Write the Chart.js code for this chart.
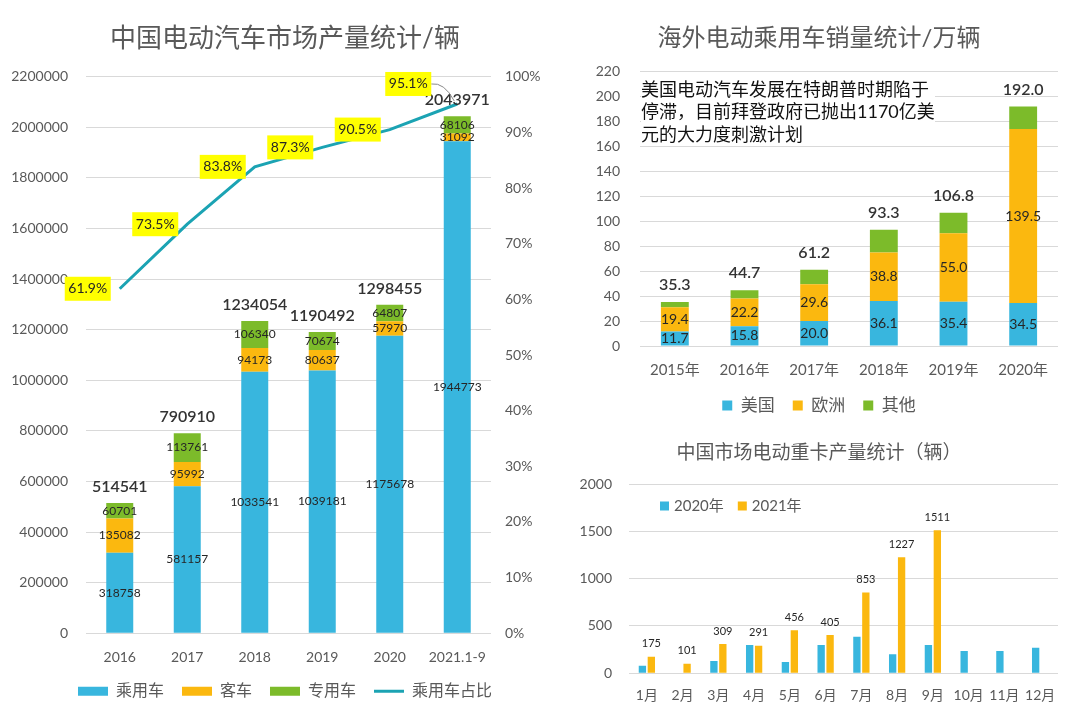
<!DOCTYPE html>
<html><head><meta charset="utf-8">
<script src="https://cdn.jsdelivr.net/npm/chart.js@4.4.0/dist/chart.umd.min.js"></script>
<style>
html,body{margin:0;padding:0;background:#fff;}
body{width:1080px;height:714px;position:relative;overflow:hidden;}
canvas{position:absolute;display:block;}
</style></head><body>
<canvas id="c1" width="570" height="714" style="left:0;top:0"></canvas>
<canvas id="c2" width="500" height="430" style="left:580px;top:0"></canvas>
<canvas id="c3" width="500" height="284" style="left:580px;top:430px"></canvas>
<script>
// ---------- Data: 中国电动汽车市场产量统计 ----------
const cnYears = ['2016', '2017', '2018', '2019', '2020', '2021.1-9'];
const cnPassenger = [318758, 581157, 1033541, 1039181, 1175678, 1944773];
const cnBus = [135082, 95992, 94173, 80637, 57970, 31092];
const cnSpecial = [60701, 113761, 106340, 70674, 64807, 68106];
const cnTotal = [514541, 790910, 1234054, 1190492, 1298455, 2043971];
const cnPassengerShare = [0.619, 0.735, 0.838, 0.873, 0.905, 0.951];
const cnAxisMax = 2200000, cnAxisStep = 200000;

// ---------- Data: 海外电动乘用车销量统计 ----------
const osYears = ['2015年', '2016年', '2017年', '2018年', '2019年', '2020年'];
const osUS = [11.7, 15.8, 20.0, 36.1, 35.4, 34.5];
const osEU = [19.4, 22.2, 29.6, 38.8, 55.0, 139.5];
const osOther = [4.2, 6.7, 11.6, 18.4, 16.4, 18.0];
const osTotal = [35.3, 44.7, 61.2, 93.3, 106.8, 192.0];
const osNote = ['美国电动汽车发展在特朗普时期陷于', '停滞，目前拜登政府已抛出1170亿美', '元的大力度刺激计划'];
const osAxisMax = 220, osAxisStep = 20;

// ---------- Data: 中国市场电动重卡产量统计 ----------
const hkMonths = ['1月', '2月', '3月', '4月', '5月', '6月', '7月', '8月', '9月', '10月', '11月', '12月'];
const hk2020 = [80, 0, 130, 300, 120, 300, 385, 200, 300, 235, 235, 270];
const hk2021 = [175, 101, 309, 291, 456, 405, 853, 1227, 1511, null, null, null];
const hkAxisMax = 2000, hkAxisStep = 500;

// ---------- Styles ----------
const FONT = 'Lato, "Noto Sans CJK SC", sans-serif';
const BLUE = '#38B6DE', ORANGE = '#FBB80F', GREEN = '#7CBB2A', TEAL = '#1BA3B3';
const GRAY = '#595959', DARK = '#262626', GRID = '#D9D9D9';
Chart.defaults.font.family = FONT;
Chart.defaults.color = GRAY;

// ---------- Chart 1 ----------
const cnLabels = {
  id: 'cnLabels',
  afterDatasetsDraw(chart) {
    const ctx = chart.ctx;
    ctx.save();
    ctx.textAlign = 'center';
    ctx.textBaseline = 'middle';
    [0, 1, 2].forEach(di => {
      const meta = chart.getDatasetMeta(di);
      const vals = chart.data.datasets[di].data;
      meta.data.forEach((el, j) => {
        ctx.font = '12px ' + FONT;
        ctx.fillStyle = DARK;
        ctx.fillText(String(vals[j]), el.x, (el.y + el.base) / 2);
      });
    });
    chart.getDatasetMeta(2).data.forEach((el, j) => {
      ctx.font = '600 16px ' + FONT;
      ctx.fillStyle = '#333';
      ctx.fillText(String(cnTotal[j]), el.x, el.y - 16);
    });
    const lm = chart.getDatasetMeta(3);
    lm.data.forEach((pt, j) => {
      const last = j === lm.data.length - 1;
      const cx = pt.x - (last ? 49 : 32), cy = pt.y - (last ? 20 : 0);
      if (last) {
        ctx.strokeStyle = '#888'; ctx.lineWidth = 1;
        ctx.beginPath();
        ctx.moveTo(cx + 23, cy);
        ctx.quadraticCurveTo(cx + 36, cy - 2, pt.x - 3, pt.y - 3);
        ctx.stroke();
      }
      ctx.fillStyle = '#FFFF00';
      ctx.fillRect(cx - 23, cy - 12, 46, 24);
      ctx.fillStyle = DARK;
      ctx.font = '14px ' + FONT;
      ctx.fillText((cnPassengerShare[j] * 100).toFixed(1) + '%', cx, cy);
    });
    ctx.restore();
  }
};

const barCommon = { barPercentage: 0.8, categoryPercentage: 0.5, pointStyle: 'rect', borderWidth: 0 };

new Chart(document.getElementById('c1'), {
  data: {
    labels: cnYears,
    datasets: [
      Object.assign({ type: 'bar', label: '乘用车', data: cnPassenger, backgroundColor: BLUE, yAxisID: 'y', order: 1 }, barCommon),
      Object.assign({ type: 'bar', label: '客车', data: cnBus, backgroundColor: ORANGE, yAxisID: 'y', order: 1 }, barCommon),
      Object.assign({ type: 'bar', label: '专用车', data: cnSpecial, backgroundColor: GREEN, yAxisID: 'y', order: 1 }, barCommon),
      { type: 'line', label: '乘用车占比', data: cnPassengerShare, borderColor: TEAL, backgroundColor: TEAL,
        borderWidth: 3, pointRadius: 0, yAxisID: 'y1', pointStyle: 'line', order: 0, tension: 0 }
    ]
  },
  options: {
    responsive: false, animation: false,
    layout: { padding: { left: 0, right: 0, top: 0, bottom: 4.7 } },
    scales: {
      x: { stacked: true, grid: { display: false, drawTicks: false }, border: { display: false },
           ticks: { padding: 15.3, color: GRAY, font: { size: 14 }, maxRotation: 0, autoSkip: false },
           afterFit(s) { s.height = 32; } },
      y: { stacked: true, min: 0, max: cnAxisMax,
           ticks: { stepSize: cnAxisStep, padding: 18, color: GRAY, font: { size: 14 }, callback: v => String(v) },
           grid: { color: GRID, drawTicks: false }, border: { display: false },
           afterFit(s) { s.width = 86; } },
      y1: { position: 'right', min: 0, max: 1,
            ticks: { stepSize: 0.1, padding: 14, color: GRAY, font: { size: 14 }, callback: v => Math.round(v * 100) + '%' },
            grid: { display: false, drawTicks: false }, border: { display: false },
            afterFit(s) { s.width = 79; } }
    },
    plugins: {
      title: { display: true, text: '中国电动汽车市场产量统计/辆', color: GRAY,
               font: { size: 26, weight: 'normal' }, padding: { top: 23, bottom: 22.5 } },
      legend: { position: 'bottom',
                labels: { usePointStyle: true, pointStyleWidth: 30, boxHeight: 9, padding: 18,
                          font: { size: 16 }, color: GRAY, sort: (a, b) => a.datasetIndex - b.datasetIndex } },
      tooltip: { enabled: false }
    }
  },
  plugins: [cnLabels]
});

// ---------- Chart 2 ----------
const osLabels = {
  id: 'osLabels',
  beforeDatasetsDraw(chart) {
    const ctx = chart.ctx, a = chart.chartArea;
    ctx.save();
    ctx.fillStyle = '#fff';
    ctx.fillRect(a.left + 1, a.top + 6, 294, 68);
    ctx.fillStyle = '#111';
    ctx.font = '18px ' + FONT;
    ctx.textAlign = 'left';
    ctx.textBaseline = 'middle';
    osNote.forEach((line, i) => ctx.fillText(line, a.left + 1, a.top + 18 + i * 22.5));
    ctx.restore();
  },
  afterDatasetsDraw(chart) {
    const ctx = chart.ctx;
    ctx.save();
    ctx.textAlign = 'center';
    ctx.textBaseline = 'middle';
    [0, 1].forEach(di => {
      const vals = chart.data.datasets[di].data;
      chart.getDatasetMeta(di).data.forEach((el, j) => {
        ctx.font = '14px ' + FONT;
        ctx.fillStyle = DARK;
        ctx.fillText(vals[j].toFixed(1), el.x, (el.y + el.base) / 2);
      });
    });
    chart.getDatasetMeta(2).data.forEach((el, j) => {
      ctx.font = '600 16px ' + FONT;
      ctx.fillStyle = '#333';
      ctx.fillText(osTotal[j].toFixed(1), el.x, el.y - 17);
    });
    ctx.restore();
  }
};

new Chart(document.getElementById('c2'), {
  type: 'bar',
  data: {
    labels: osYears,
    datasets: [
      Object.assign({ label: '美国', data: osUS, backgroundColor: BLUE }, barCommon),
      Object.assign({ label: '欧洲', data: osEU, backgroundColor: ORANGE }, barCommon),
      Object.assign({ label: '其他', data: osOther, backgroundColor: GREEN }, barCommon)
    ]
  },
  options: {
    responsive: false, animation: false,
    layout: { padding: { left: 0, right: 22, top: 0, bottom: 6 } },
    scales: {
      x: { stacked: true, grid: { display: false, drawTicks: false }, border: { display: false },
           ticks: { padding: 15, color: GRAY, font: { size: 15 }, maxRotation: 0, autoSkip: false },
           afterFit(s) { s.height = 33; } },
      y: { stacked: true, min: 0, max: osAxisMax,
           ticks: { stepSize: osAxisStep, padding: 20, color: GRAY, font: { size: 14 } },
           grid: { color: GRID, drawTicks: false }, border: { display: false },
           afterFit(s) { s.width = 60; } }
    },
    plugins: {
      title: { display: true, text: '海外电动乘用车销量统计/万辆', color: GRAY,
               font: { size: 24, weight: 'normal' }, padding: { top: 23.6, bottom: 19.3 } },
      legend: { position: 'bottom',
                labels: { usePointStyle: true, pointStyleWidth: 10, boxHeight: 10, padding: 18,
                          font: { size: 17 }, color: GRAY } },
      tooltip: { enabled: false }
    }
  },
  plugins: [osLabels]
});

// ---------- Chart 3 ----------
const hkLabels = {
  id: 'hkLabels',
  afterDatasetsDraw(chart) {
    const ctx = chart.ctx, a = chart.chartArea;
    ctx.save();
    ctx.textAlign = 'center';
    ctx.textBaseline = 'middle';
    ctx.font = '11px ' + FONT;
    ctx.fillStyle = DARK;
    chart.getDatasetMeta(1).data.forEach((el, j) => {
      if (hk2021[j] == null) return;
      ctx.fillText(String(hk2021[j]), el.x, el.y - 13);
    });
    // legend inside plot area
    ctx.textAlign = 'left';
    ctx.font = '15px ' + FONT;
    let x = a.left + 31;
    const y = a.top + 22;
    chart.data.datasets.forEach(ds => {
      ctx.fillStyle = ds.backgroundColor;
      ctx.fillRect(x, y - 4.5, 9, 9);
      ctx.fillStyle = GRAY;
      ctx.fillText(ds.label, x + 14, y);
      x += 14 + ctx.measureText(ds.label).width + 14;
    });
    ctx.restore();
  }
};

new Chart(document.getElementById('c3'), {
  type: 'bar',
  data: {
    labels: hkMonths,
    datasets: [
      { label: '2020年', data: hk2020, backgroundColor: BLUE, barPercentage: 0.82, categoryPercentage: 0.5 },
      { label: '2021年', data: hk2021, backgroundColor: ORANGE, barPercentage: 0.82, categoryPercentage: 0.5 }
    ]
  },
  options: {
    responsive: false, animation: false,
    layout: { padding: { left: 0, right: 22, top: 0, bottom: 8.7 } },
    scales: {
      x: { grid: { display: false, drawTicks: false }, border: { display: false },
           ticks: { padding: 13.3, color: GRAY, font: { size: 14 }, maxRotation: 0, minRotation: 0, autoSkip: false },
           afterFit(s) { s.height = 32; } },
      y: { min: 0, max: hkAxisMax,
           ticks: { stepSize: hkAxisStep, padding: 17, color: GRAY, font: { size: 14 }, callback: v => String(v) },
           grid: { color: GRID, drawTicks: false }, border: { display: false },
           afterFit(s) { s.width = 49; } }
    },
    plugins: {
      title: { display: true, text: '中国市场电动重卡产量统计（辆）', color: GRAY,
               font: { size: 19, weight: 'normal' }, padding: { top: 11.6, bottom: 19.6 } },
      legend: { display: false },
      tooltip: { enabled: false }
    }
  },
  plugins: [hkLabels]
});
</script>
</body></html>
